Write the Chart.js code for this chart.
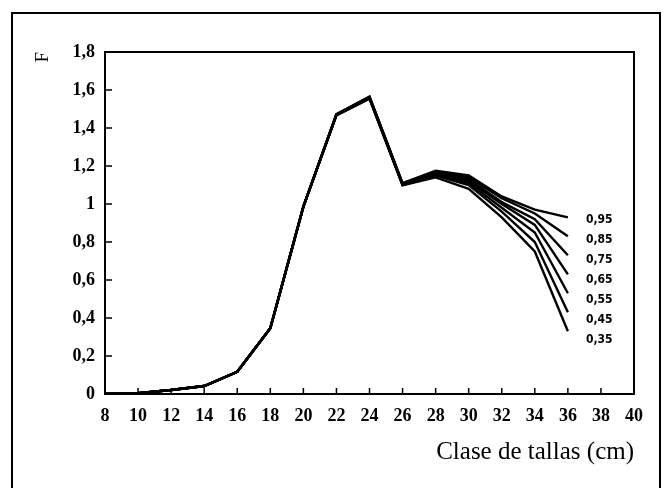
<!DOCTYPE html>
<html>
<head>
<meta charset="utf-8">
<script src="https://cdn.jsdelivr.net/npm/chart.js@4"></script>
<style>
  html, body { margin: 0; padding: 0; background: #fff; }
  #c { display: block; }
</style>
</head>
<body>
<canvas id="c" width="664" height="488" style="width:664px;height:488px"></canvas>
<script>
// ---- data ----
const sizes = [8, 10, 12, 14, 16, 18, 20, 22, 24, 26, 28, 30, 32, 34, 36];
const seriesLabels = ['0,95', '0,85', '0,75', '0,65', '0,55', '0,45', '0,35'];
const f095 = [0, 0.004, 0.021, 0.042, 0.117, 0.346, 0.986, 1.472, 1.565, 1.11, 1.175, 1.15, 1.04, 0.97, 0.93];
const f085 = [0, 0.004, 0.021, 0.042, 0.117, 0.346, 0.986, 1.472, 1.565, 1.108, 1.17, 1.14, 1.03, 0.95, 0.83];
const f075 = [0, 0.004, 0.021, 0.042, 0.117, 0.346, 0.986, 1.472, 1.562, 1.106, 1.165, 1.13, 1.01, 0.92, 0.73];
const f065 = [0, 0.004, 0.021, 0.042, 0.117, 0.346, 0.986, 1.472, 1.56, 1.104, 1.16, 1.12, 1.00, 0.89, 0.63];
const f055 = [0, 0.004, 0.021, 0.042, 0.117, 0.346, 0.986, 1.47, 1.558, 1.102, 1.155, 1.11, 0.98, 0.85, 0.53];
const f045 = [0, 0.004, 0.021, 0.042, 0.117, 0.346, 0.986, 1.468, 1.556, 1.10, 1.15, 1.10, 0.96, 0.80, 0.43];
const f035 = [0, 0.004, 0.021, 0.042, 0.117, 0.346, 0.986, 1.466, 1.554, 1.098, 1.14, 1.08, 0.93, 0.75, 0.33];
const seriesValues = [f095, f085, f075, f065, f055, f045, f035];
const xTitle = 'Clase de tallas (cm)';
const yTitle = 'F';

const tickFont = { family: '"Liberation Serif", "Times New Roman", serif', size: 18, weight: 'bold' };
const fmtY = v => {
  const r = Math.round(v * 10) / 10;
  return String(r).replace('.', ',');
};

const datasets = seriesValues.map((vals, i) => ({
  label: seriesLabels[i],
  data: sizes.map((s, j) => ({ x: s, y: vals[j] })),
  borderColor: '#000',
  borderWidth: 2.4,
  pointRadius: 0,
  tension: 0,
  fill: false
}));

const decor = {
  id: 'decor',
  beforeDraw(chart) {
    const ctx = chart.ctx;
    ctx.save();
    ctx.fillStyle = '#fff';
    ctx.fillRect(0, 0, chart.width, chart.height);
    ctx.strokeStyle = '#000';
    ctx.lineWidth = 2;
    ctx.strokeRect(12, 13, 648, 500);
    ctx.restore();
  },
  afterDraw(chart) {
    const ctx = chart.ctx;
    const a = chart.chartArea;
    const xs = chart.scales.x, ys = chart.scales.y;
    ctx.save();
    ctx.strokeStyle = '#000';
    ctx.lineWidth = 2;
    ctx.strokeRect(a.left, a.top, a.right - a.left, a.bottom - a.top);
    ctx.lineWidth = 1.5;
    ctx.beginPath();
    xs.ticks.forEach(t => {
      const px = xs.getPixelForValue(t.value);
      ctx.moveTo(px, a.bottom);
      ctx.lineTo(px, a.bottom - 6);
    });
    ys.ticks.forEach(t => {
      const py = ys.getPixelForValue(t.value);
      ctx.moveTo(a.left, py);
      ctx.lineTo(a.left + 7, py);
    });
    ctx.stroke();
    // end-of-line series labels
    ctx.fillStyle = '#000';
    ctx.font = 'bold 12px "DejaVu Sans Condensed", "DejaVu Sans", sans-serif';
    ctx.textAlign = 'left';
    ctx.textBaseline = 'middle';
    let prev = -Infinity;
    const last = sizes.length - 1;
    seriesValues.forEach((vals, i) => {
      const px = xs.getPixelForValue(sizes[last]) + 18;
      let py = ys.getPixelForValue(vals[last]) + 3;
      if (py < prev + 20) py = prev + 20;
      prev = py;
      ctx.fillText(seriesLabels[i], px, py);
    });
    ctx.restore();
  }
};

new Chart(document.getElementById('c'), {
  type: 'line',
  data: { datasets },
  options: {
    responsive: false,
    devicePixelRatio: 1,
    animation: false,
    events: [],
    layout: { padding: { top: 52, right: 30, left: 0, bottom: 0 } },
    plugins: { legend: { display: false }, tooltip: { enabled: false } },
    scales: {
      x: {
        type: 'linear',
        min: 8, max: 40,
        grid: { display: false, drawTicks: false },
        border: { display: false },
        ticks: { stepSize: 2, autoSkip: false, maxRotation: 0, color: '#000', font: tickFont, padding: 12 },
        title: { display: true, text: xTitle, align: 'end', color: '#000',
                 font: { family: '"Liberation Serif", "Times New Roman", serif', size: 25 },
                 padding: { top: 0, bottom: 21 } },
        afterFit(s) { s.height = 94; }
      },
      y: {
        min: 0, max: 1.8,
        grid: { display: false, drawTicks: false },
        border: { display: false },
        ticks: { stepSize: 0.2, color: '#000', font: tickFont, padding: 10, callback: v => fmtY(v) },
        title: { display: true, text: yTitle, align: 'end', color: '#000',
                 font: { family: '"Liberation Serif", "Times New Roman", serif', size: 19 },
                 padding: { top: 32, bottom: 0 } },
        afterFit(s) { s.width = 105; }
      }
    }
  },
  plugins: [decor]
});
</script>
</body>
</html>
